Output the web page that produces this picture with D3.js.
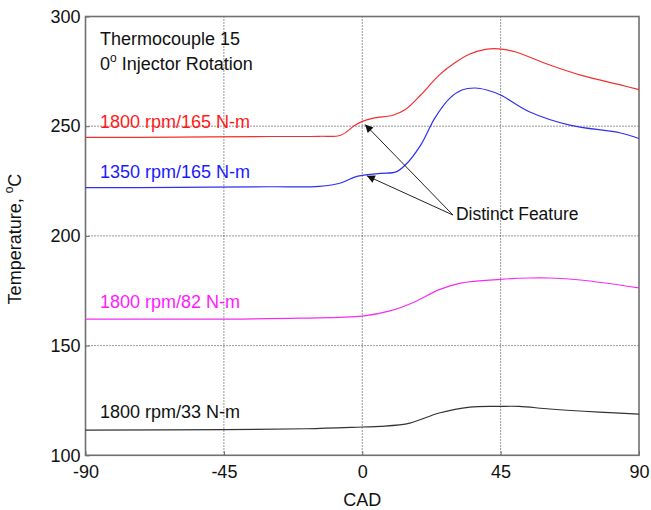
<!DOCTYPE html>
<html>
<head>
<meta charset="utf-8">
<script src="https://cdn.jsdelivr.net/npm/d3@7"></script>
<style>
  html, body { margin: 0; padding: 0; background: #fff; }
  svg { display: block; font-family: "Liberation Sans", Arial, sans-serif; }
</style>
</head>
<body>
<svg id="chart" width="651" height="510"></svg>
<script>
// ---- data ----
const xTicks = [-90, -45, 0, 45, 90];
const yTicks = [100, 150, 200, 250, 300];

const red1800_165 = [
  [-90, 244.9], [-60, 245.0], [-30, 245.3], [-14, 245.4], [-7, 245.9], [-2.5, 250.3],
  [0, 252.2], [4, 253.8], [10, 255.0], [14, 257.6], [19, 264.2], [25, 273.3],
  [30, 278.8], [35, 282.9], [40, 285.0], [43, 285.4], [46, 285.0], [50, 283.8], [61, 277.9],
  [71, 273.3], [84, 268.8], [90, 266.7]
];
const blue1350_165 = [
  [-90, 222.0], [-60, 222.1], [-30, 222.4], [-14, 222.6], [-7, 224.1], [-2.5, 226.8],
  [0, 227.6], [6, 228.5], [11, 229.2], [14, 232.3], [19, 241.4], [23.6, 253.7],
  [28.5, 262.8], [32.4, 266.5], [36.7, 267.4], [40.5, 266.5], [45, 264.2],
  [54.5, 256.5], [67.5, 250.5], [84, 246.9], [90, 244.4]
];
const magenta1800_82 = [
  [-90, 162.1], [-45, 162.1], [-20, 162.5], [0, 163.4], [9, 165.8], [17, 169.9],
  [25, 175.5], [32, 178.5], [45, 180.2], [54.5, 180.8], [61, 180.8], [71, 179.9], [90, 176.3]
];
const black1800_33 = [
  [-90, 111.5], [-45, 111.7], [-18, 112.1], [0, 112.9], [6, 113.2], [15.5, 114.7],
  [25, 119.3], [35, 122.0], [45, 122.3], [51, 122.3], [61, 121.1], [77, 119.7], [90, 118.8]
];
const seriesLabels = ["1800 rpm/165 N-m", "1350 rpm/165 N-m", "1800 rpm/82 N-m", "1800 rpm/33 N-m"];
const annotationText = "Distinct Feature";
// arrow tips (data coords) and where the arrows start (data coords)
const arrowTips = [[0.9, 250.8], [1.5, 227.4]];
const arrowStart = [29.5, 209.5];

// ---- layout ----
const svg = d3.select("#chart");
const mLeft = 85.5, mTop = 16.5, mRight = 639, mBottom = 455.3;
const x = d3.scaleLinear().domain([-90, 90]).range([mLeft, mRight]);
const y = d3.scaleLinear().domain([100, 300]).range([mBottom, mTop]);

const defs = svg.append("defs");
defs.append("marker")
  .attr("id", "arrow").attr("viewBox", "0 0 10 10")
  .attr("refX", 10).attr("refY", 5)
  .attr("markerWidth", 10).attr("markerHeight", 8)
  .attr("markerUnits", "userSpaceOnUse")
  .attr("orient", "auto")
  .append("path").attr("d", "M0,0 L10,5 L0,10 z").attr("fill", "#111");

// grid
const grid = svg.append("g");
grid.selectAll("line.vx").data(xTicks.slice(1, -1)).enter().append("line")
  .attr("x1", d => x(d)).attr("x2", d => x(d))
  .attr("y1", mTop).attr("y2", mBottom)
  .attr("stroke", "#333").attr("stroke-width", 1).attr("stroke-dasharray", "1,2");
grid.selectAll("line.hy").data(yTicks.slice(1, -1)).enter().append("line")
  .attr("y1", d => y(d)).attr("y2", d => y(d))
  .attr("x1", mLeft).attr("x2", mRight)
  .attr("stroke", "#333").attr("stroke-width", 1).attr("stroke-dasharray", "1,2");

// axes (MATLAB-style, ticks inside)
const fmt = d => String(d);
const xAxis = svg.append("g").attr("transform", `translate(0,${mBottom})`)
  .call(d3.axisBottom(x).tickValues(xTicks).tickFormat(fmt).tickSizeInner(-4).tickSizeOuter(0).tickPadding(10));
const yAxis = svg.append("g").attr("transform", `translate(${mLeft},0)`)
  .call(d3.axisLeft(y).tickValues(yTicks).tickFormat(fmt).tickSizeInner(-4).tickSizeOuter(0).tickPadding(5));
[xAxis, yAxis].forEach(g => {
  g.select(".domain").remove();
  g.selectAll(".tick line").attr("stroke", "#666");
  g.selectAll(".tick text").attr("font-size", 18).attr("fill", "#111")
    .attr("font-family", "Liberation Sans, Arial, sans-serif");
});
xAxis.selectAll(".tick text").attr("dy", "0.71em");

// box
svg.append("rect").attr("x", mLeft).attr("y", mTop)
  .attr("width", mRight - mLeft).attr("height", mBottom - mTop)
  .attr("fill", "none").attr("stroke", "#707070").attr("stroke-width", 1.6);

// lines
const line = d3.line().x(d => x(d[0])).y(d => y(d[1])).curve(d3.curveCatmullRom.alpha(0.5));
const series = [
  { data: red1800_165, color: "#f03030", text: "#ff1a1a" },
  { data: blue1350_165, color: "#3030f0", text: "#1a1aff" },
  { data: magenta1800_82, color: "#f030f0", text: "#ff1aff" },
  { data: black1800_33, color: "#333333", text: "#111111" }
];
svg.append("g").selectAll("path").data(series).enter().append("path")
  .attr("d", d => line(d.data))
  .attr("fill", "none").attr("stroke", d => d.color).attr("stroke-width", 1.2);

// series labels
const labelBaselines = [128, 178, 308, 418];
svg.append("g").selectAll("text").data(series).enter().append("text")
  .attr("x", 100).attr("y", (d, i) => labelBaselines[i])
  .attr("font-size", 18).attr("fill", d => d.text)
  .text((d, i) => seriesLabels[i]);

// title text
svg.append("text").attr("x", 100).attr("y", 45).attr("font-size", 18).attr("fill", "#111")
  .text("Thermocouple 15");
const t2 = svg.append("text").attr("x", 100).attr("y", 70).attr("font-size", 18).attr("fill", "#111");
t2.append("tspan").text("0");
t2.append("tspan").attr("font-size", 12).attr("dy", -8).text("o");
t2.append("tspan").attr("dy", 8).text(" Injector Rotation");

// annotation
svg.append("g").selectAll("line").data(arrowTips).enter().append("line")
  .attr("x1", x(arrowStart[0])).attr("y1", y(arrowStart[1]))
  .attr("x2", d => x(d[0])).attr("y2", d => y(d[1]))
  .attr("stroke", "#222").attr("stroke-width", 1)
  .attr("marker-end", "url(#arrow)");
svg.append("text").attr("x", x(arrowStart[0]) + 3).attr("y", 220)
  .attr("font-size", 17.5).attr("fill", "#111").text(annotationText);

// axis titles
svg.append("text").attr("x", x(0)).attr("y", 506).attr("text-anchor", "middle")
  .attr("font-size", 18).attr("fill", "#111").text("CAD");
const yl = svg.append("text").attr("transform", "translate(21,239) rotate(-90)")
  .attr("text-anchor", "middle").attr("font-size", 18).attr("fill", "#111");
yl.append("tspan").text("Temperature, ");
yl.append("tspan").attr("font-size", 12).attr("dy", -8).text("o");
yl.append("tspan").attr("dy", 8).text("C");
</script>
</body>
</html>
